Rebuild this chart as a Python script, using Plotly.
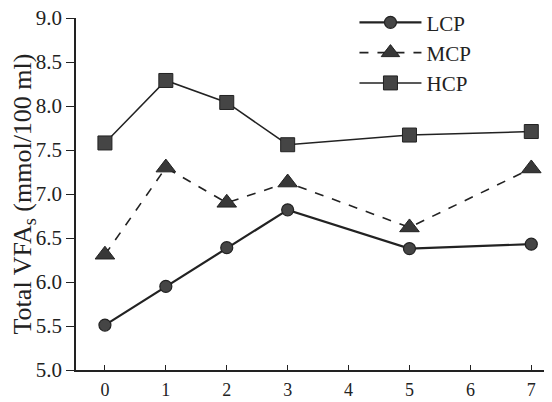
import plotly.graph_objects as go

days = [0, 1, 2, 3, 5, 7]
lcp = [5.51, 5.95, 6.39, 6.82, 6.38, 6.43]
mcp = [6.31, 7.30, 6.90, 7.13, 6.62, 7.29]
hcp = [7.58, 8.29, 8.04, 7.56, 7.67, 7.71]
x_ticks = [0, 1, 2, 3, 4, 5, 6, 7]
y_ticks = [5.0, 5.5, 6.0, 6.5, 7.0, 7.5, 8.0, 8.5, 9.0]

ink = "#222222"
fig = go.Figure()
fig.add_trace(go.Scatter(x=days, y=lcp, name="LCP", mode="lines+markers",
                         line=dict(color=ink, width=2.2),
                         marker=dict(symbol="circle", size=12, color="#454545", line=dict(color=ink, width=1.2))))
fig.add_trace(go.Scatter(x=days, y=mcp, name="MCP", mode="lines+markers",
                         line=dict(color=ink, width=1.6, dash="dash"),
                         marker=dict(symbol="triangle-up", size=17, color="#383838", line=dict(color=ink, width=1))))
fig.add_trace(go.Scatter(x=days, y=hcp, name="HCP", mode="lines+markers",
                         line=dict(color=ink, width=1.5),
                         marker=dict(symbol="square", size=14, color="#454545", line=dict(color=ink, width=1))))

# page body has an 8px margin: figure is sized/placed to land on the reference pixels
fig.update_layout(
    width=544, height=394,
    margin=dict(l=68, r=0, t=10, b=32, pad=0, autoexpand=False),
    paper_bgcolor="white", plot_bgcolor="white",
    font=dict(family="Liberation Serif", size=20, color="#222"),
    showlegend=True,
    legend=dict(x=0.585, y=1.045, xanchor="left", yanchor="top", bgcolor="rgba(0,0,0,0)",
                font=dict(size=21), itemwidth=62, tracegroupgap=0),
    xaxis=dict(range=[-0.475, 7.34], tickvals=x_ticks, ticktext=[str(v) for v in x_ticks],
               showgrid=False, zeroline=False, showline=True, linecolor="#222", linewidth=1.5,
               ticks="inside", ticklen=5, tickcolor="#222", tickfont=dict(size=18),
               ticklabelstandoff=3, automargin=False),
    yaxis=dict(range=[5.0, 9.0], tickvals=y_ticks, ticktext=[f"{v:.1f}" for v in y_ticks],
               showgrid=False, zeroline=False, showline=True, linecolor="#222", linewidth=1.5,
               ticks="outside", ticklen=8, tickcolor="#222", tickfont=dict(size=21),
               ticklabeloverflow="allow", automargin=False,
               title=dict(text="Total VFA<sub>s</sub> (mmol/100 ml)", font=dict(size=26), standoff=6)),
)
fig.write_html("out.html")
